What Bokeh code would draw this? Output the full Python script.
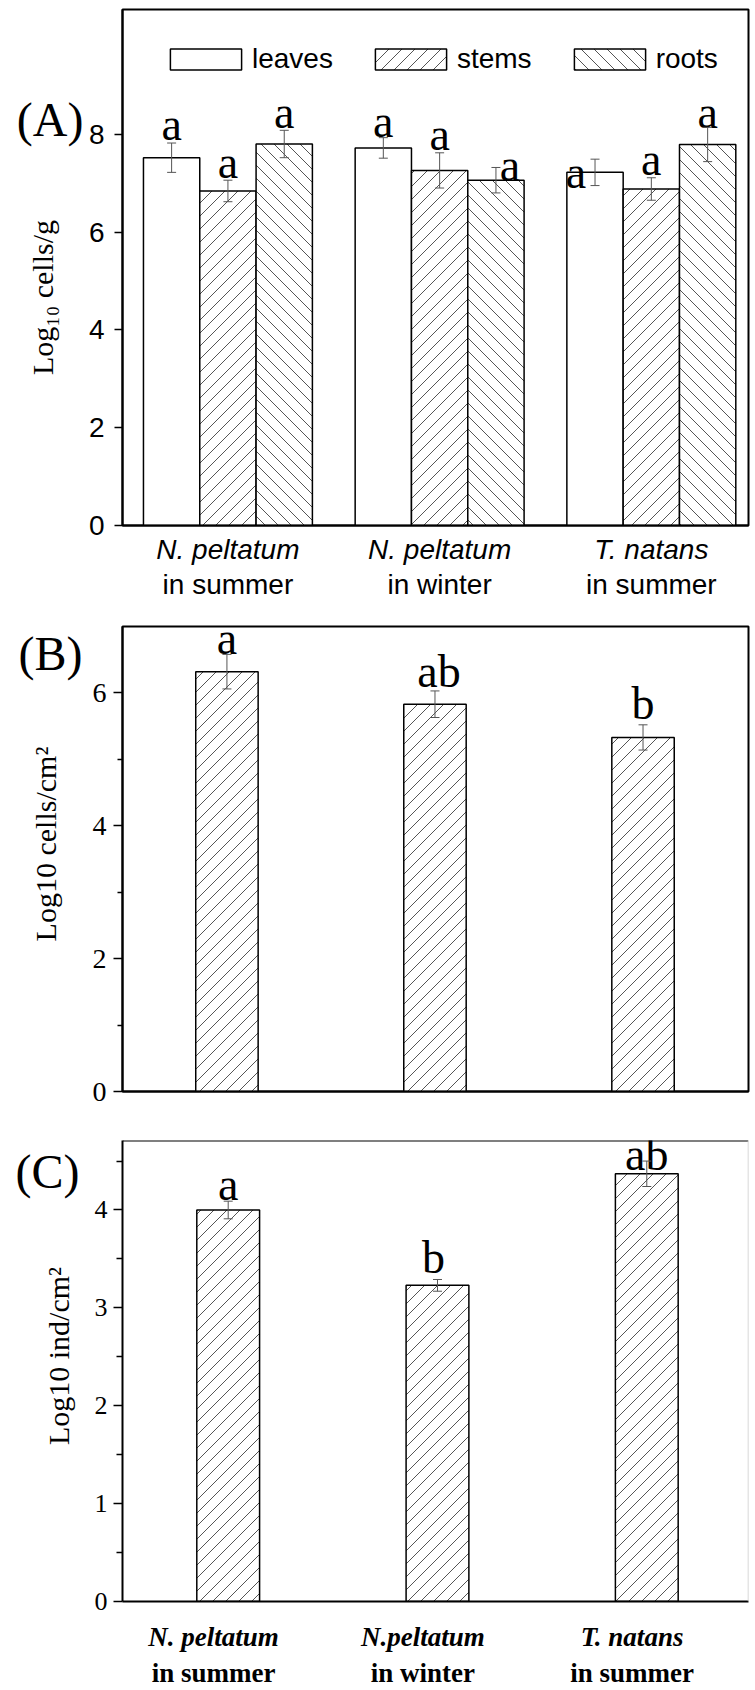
import base64
import numpy as np
from bokeh.plotting import figure
from bokeh.models import (Range1d, ColumnDataSource, Whisker, TeeHead, Label,
                          Legend, LegendItem, FixedTicker, Span, LinearAxis,
                          ImageURLTexture)
from bokeh.layouts import column
from bokeh.embed import file_html
from bokeh.resources import INLINE
from bokeh.core.properties import value

# ---------------- data ----------------
cats_a_line1 = ["N. peltatum", "N. peltatum", "T. natans"]
cats_a_line2 = ["in summer", "in winter", "in summer"]
cats_c_line1 = ["N. peltatum", "N.peltatum", "T. natans"]
cats_c_line2 = ["in summer", "in winter", "in summer"]

tissues = ["leaves", "stems", "roots"]
leaves_mean = [7.52, 7.72, 7.22]
leaves_err = [0.30, 0.21, 0.27]
stems_mean = [6.84, 7.26, 6.88]
stems_err = [0.22, 0.36, 0.23]
roots_mean = [7.80, 7.06, 7.79]
roots_err = [0.28, 0.26, 0.35]
leaves_letters = ["a", "a", "a"]
stems_letters = ["a", "a", "a"]
roots_letters = ["a", "a", "a"]

epi_mean = [6.32, 5.83, 5.33]
epi_err = [0.26, 0.20, 0.19]
epi_letters = ["a", "ab", "b"]

ind_mean = [4.00, 3.23, 4.37]
ind_err = [0.09, 0.06, 0.13]
ind_letters = ["a", "b", "ab"]

yticks_a = [0, 2, 4, 6, 8]
yticks_b = [0, 2, 4, 6]
yminor_b = [1, 3, 5]
yticks_c = [0, 1, 2, 3, 4]
yminor_c = [0.5, 1.5, 2.5, 3.5, 4.5]

ytitle_a = "Log\u2081\u2080 cells/g"
ytitle_b = "Log10 cells/cm\u00b2"
ytitle_c = "Log10 ind/cm\u00b2"
panel_tags = ["(A)", "(B)", "(C)"]

# ---------------- styles ----------------
SERIF = "Liberation Serif"
SANS = "Liberation Sans"
W = 755
ERR_COLOR = "#555555"
LETTER_SIZE = "46px"
PANEL_SIZE = "48px"
LIFT = 15  # compensation for baseline rendering
EM = "\u2003"  # used to nudge the centred axis titles


def hatch_tex(forward, s=13, color="#555555"):
    if forward:
        d = f"M0,{s} L{s},0 M-2,2 L2,-2 M{s-2},{s+2} L{s+2},{s-2}"
    else:
        d = f"M0,0 L{s},{s} M-2,{s-2} L2,{s+2} M{s-2},-2 L{s+2},2"
    svg = (f"<svg xmlns='http://www.w3.org/2000/svg' width='{s}' height='{s}'>"
           f"<path d='{d}' stroke='{color}' stroke-width='1' fill='none'/></svg>")
    url = "data:image/svg+xml;base64," + base64.b64encode(svg.encode()).decode()
    return ImageURLTexture(url=url, repetition="repeat")


HATCHES = {"/": hatch_tex(True), "\\": hatch_tex(False)}

# letter placement tweaks (screen px: dx, dy above error-bar top)
let_adj_a = {"leaves": [(0, 4), (0, 1), (-19, -28)],
             "stems": [(0, 3), (0, 3), (0, 3)],
             "roots": [(0, 3), (14, -13), (0, 0)]}
let_adj_b = [(0, 1), (4, 4), (0, 6)]
let_adj_c = [(0, 2), (-4, 7), (0, -8)]


def base_fig(h, xr, yr, bl, br, bt, bb):
    p = figure(width=W, height=h, x_range=Range1d(*xr), y_range=Range1d(*yr),
               output_backend="svg", toolbar_location=None, tools="", title=None,
               min_border_left=bl, min_border_right=br,
               min_border_top=bt, min_border_bottom=bb)
    p.xgrid.visible = False
    p.ygrid.visible = False
    p.background_fill_color = "white"
    p.border_fill_color = "white"
    p.outline_line_color = "black"
    p.outline_line_width = 2
    p.xaxis.ticker = FixedTicker(ticks=[])
    p.xaxis.major_label_text_font_size = "0px"
    p.xaxis.major_tick_line_color = None
    p.xaxis.minor_tick_line_color = None
    p.xaxis.major_tick_out = 0
    p.xaxis.axis_line_width = 2
    p.xaxis.axis_line_color = "black"
    p.yaxis.axis_line_width = 2
    p.yaxis.axis_line_color = "black"
    p.yaxis.major_tick_in = 0
    p.yaxis.minor_tick_in = 0
    p.yaxis.major_tick_line_width = 1.5
    p.yaxis.minor_tick_line_width = 1.5
    p.yaxis.major_label_text_color = "black"
    return p


def tag_axis(p, ypos, tag, standoff, title, title_size, title_standoff):
    ax = LinearAxis(ticker=FixedTicker(ticks=[ypos]),
                    major_label_overrides={ypos: tag},
                    axis_line_color=None, major_tick_line_color=None,
                    minor_tick_line_color=None, major_tick_out=0, major_tick_in=0,
                    major_label_standoff=standoff,
                    major_label_text_font=SERIF, major_label_text_font_size=PANEL_SIZE,
                    major_label_text_color="black",
                    axis_label=title, axis_label_standoff=title_standoff,
                    axis_label_text_font=SERIF, axis_label_text_font_size=title_size,
                    axis_label_text_font_style="normal", axis_label_text_color="black")
    p.add_layout(ax, "left")


def cat_axes(p, lines1, lines2, font, size, style1, style2, s1, s2, shift=0.0):
    ticks = [round(i + 1 + shift, 3) for i in range(len(lines1))]
    ax1 = p.xaxis[0]
    ax1.ticker = FixedTicker(ticks=ticks)
    ax1.major_label_overrides = {t: s for t, s in zip(ticks, lines1)}
    ax1.major_label_text_font = font
    ax1.major_label_text_font_size = size
    ax1.major_label_text_font_style = style1
    ax1.major_label_text_color = "black"
    ax1.major_label_standoff = s1
    ax2 = LinearAxis(ticker=FixedTicker(ticks=ticks),
                     major_label_overrides={t: s for t, s in zip(ticks, lines2)},
                     axis_line_color=None, major_tick_line_color=None,
                     minor_tick_line_color=None, major_tick_out=0, major_tick_in=0,
                     major_label_standoff=s2, major_label_text_font=font,
                     major_label_text_font_size=size, major_label_text_font_style=style2,
                     major_label_text_color="black")
    p.add_layout(ax2, "below")


def bars(p, xs, means, errs, width, hatch):
    means = np.array(means)
    errs = np.array(errs)
    src = ColumnDataSource(dict(x=xs, top=means, upper=means + errs, lower=means - errs))
    kw = dict(hatch_pattern=value("h"), hatch_extra={"h": HATCHES[hatch]}) if hatch else {}
    r = p.vbar(x="x", top="top", bottom=0, width=width, source=src,
               fill_color="white", line_color="black", line_width=1.5, **kw)
    w = Whisker(source=src, base="x", upper="upper", lower="lower",
                line_color=ERR_COLOR, line_width=1, level="overlay",
                upper_head=TeeHead(size=9, line_color=ERR_COLOR, line_width=1),
                lower_head=TeeHead(size=9, line_color=ERR_COLOR, line_width=1))
    p.add_layout(w)
    return r


def letters(p, xs, means, errs, texts, adj):
    for x, m, e, t, (dx, dy) in zip(xs, means, errs, texts, adj):
        p.add_layout(Label(x=x, y=m + e, text=t, x_offset=dx, y_offset=dy + LIFT,
                           text_align="center", text_baseline="alphabetic",
                           text_font=SERIF, text_font_size=LETTER_SIZE,
                           text_color="black"))


gx = np.arange(1, len(cats_a_line1) + 1)

# ---------------- panel A ----------------
bw_a = 0.266
pa = base_fig(602, (0.502, 3.459), (0, 10.55), 118, 2, 9, 76)
pa.yaxis.ticker = FixedTicker(ticks=yticks_a)
pa.yaxis.minor_tick_line_color = None
pa.yaxis.major_tick_out = 8
pa.yaxis.major_label_standoff = 10
pa.yaxis.major_label_text_font = SANS
pa.yaxis.major_label_text_font_size = "28px"
tag_axis(pa, 8.3, panel_tags[0], 2, ytitle_a + EM + EM, "30px", -45)

series_a = [(leaves_mean, leaves_err, leaves_letters, None),
            (stems_mean, stems_err, stems_letters, "/"),
            (roots_mean, roots_err, roots_letters, "\\")]
rends = []
for i, (name, (m, e, lt, h)) in enumerate(zip(tissues, series_a)):
    xs = gx + (i - 1) * bw_a
    rends.append(bars(pa, xs, m, e, bw_a, h))
    letters(pa, xs, m, e, lt, let_adj_a[name])

legend = Legend(items=[LegendItem(label=value(n), renderers=[r]) for n, r in zip(tissues, rends)],
                orientation="horizontal", location=(39, 450),
                glyph_width=89, glyph_height=26, label_standoff=2, spacing=33,
                padding=0, margin=0, border_line_color=None,
                background_fill_alpha=0, label_text_font=SANS,
                label_text_font_size="28px", label_text_color="black")
pa.add_layout(legend)
cat_axes(pa, cats_a_line1, cats_a_line2, SANS, "28px", "italic", "normal", 8, 1)

# ---------------- panel B ----------------
bw = 0.3
pb = base_fig(510, (0.498, 3.507), (0, 7), 119, 7, 24, 21)
pb.yaxis.ticker = FixedTicker(ticks=yticks_b, minor_ticks=yminor_b)
pb.yaxis.major_tick_out = 9
pb.yaxis.minor_tick_out = 5
pb.yaxis.major_label_standoff = 7
pb.yaxis.major_label_text_font = SERIF
pb.yaxis.major_label_text_font_size = "28px"
tag_axis(pb, 6.59, panel_tags[1], 7, EM + ytitle_b, "30px", -46)
bars(pb, gx, epi_mean, epi_err, bw, "/")
letters(pb, gx, epi_mean, epi_err, epi_letters, let_adj_b)

# ---------------- panel C ----------------
pc = base_fig(578, (0.495, 3.486), (0, 4.71), 122, 2, 28, 84)
pc.outline_line_color = None
pc.yaxis.ticker = FixedTicker(ticks=yticks_c, minor_ticks=yminor_c)
pc.yaxis.major_tick_out = 9
pc.yaxis.minor_tick_out = 6
pc.yaxis.major_label_standoff = 6
pc.yaxis.major_label_text_font = SERIF
pc.yaxis.major_label_text_font_size = "26px"
tag_axis(pc, 4.39, panel_tags[2], 12, EM + ytitle_c, "30px", -62)
pc.add_layout(Span(location=4.71, dimension="width", line_color="black", line_width=2))
pc.add_layout(Span(location=3.486, dimension="height", line_color="#cccccc", line_width=1.5))
bars(pc, gx, ind_mean, ind_err, bw, "/")
letters(pc, gx, ind_mean, ind_err, ind_letters, let_adj_c)
cat_axes(pc, cats_c_line1, cats_c_line2, SERIF, "27px", "bold italic", "bold", 20, 3, shift=-0.07)

layout = column(pa, pb, pc, spacing=0)
open("out.html", "w").write(file_html(layout, INLINE))
